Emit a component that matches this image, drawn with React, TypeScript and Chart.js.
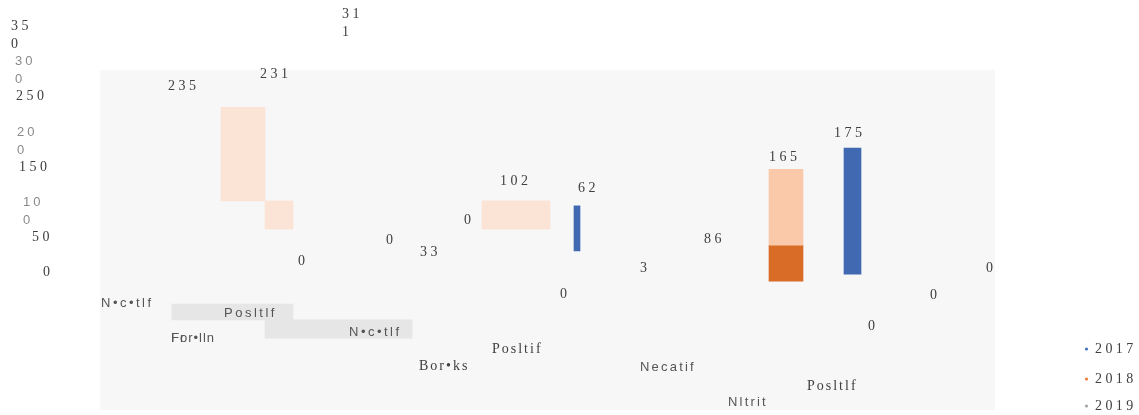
import { useEffect, useRef } from "react";
import { Chart, registerables } from "chart.js";

Chart.register(...registerables);

// ---- data ----
const seriesNames = ["2017", "2018", "2019"];
const yTicks = [0, 50, 100, 150, 200, 250, 300, 350];
const yTickLabels = [["0"], ["50"], ["10", "0"], ["150"], ["20", "0"], ["250"], ["30", "0"], ["35", "0"]];

// floating bars: center on x (value units), range on y
const barSeries = [1, 1, 1, 0, 1, 1, 0, 2, 2];
const barCenters = [143, 179, 416, 477, 686, 686, 752.5, 132.5, 238.5];
const barRanges = [
  [102, 235],
  [62, 102],
  [62, 102],
  [31, 95],
  [39, 147],
  [-12, 39],
  [-2, 177],
  [-67, -44.5],
  [-93, -67],
];

const valueLabels = [
  ["235"], ["231"], ["0"], ["31", "1"], ["0"], ["33"], ["0"], ["102"], ["62"],
  ["0"], ["3"], ["86"], ["165"], ["175"], ["0"], ["0"], ["0"],
];
const categoryLabels = [
  "N•c•tlf", "Posltlf", "Fr", "For•lln", "N•c•tlf", "Bor•ks",
  "Posltif", "Necatif", "Posltlf", "Nltrit",
];

// ---- layout / style (kept apart from the data) ----
const valueLabelPos = [
  [68, 265.2], [160, 282.3], [198, 16.6], [242, 367.5], [286, 46.5], [320, 29.4],
  [364, 74.9], [400, 130.3], [478, 120.3], [460, -30.3], [540, 6.7], [604, 47.9],
  [669, 164.4], [734, 198.5], [768, -75.7], [830, -31.7], [886, 6.7],
];
const categoryPos = [
  [1, -43.0], [124, -57.3], [71, -92.8], [71, -92.8], [249, -84.2], [319, -132.6],
  [392, -108.4], [540, -134.0], [707, -161.0], [628, -183.7],
];
const categorySerif = [false, false, false, false, false, true, true, false, true, false];
const categorySpacing = [2.5, 2.5, 1, 1, 2.5, 2, 2, 2.2, 2, 2.2];
const yTickLabelX = [43, 32, 23, 19, 17, 16, 15, 11];
const yTickSerif = [true, true, false, true, false, true, false, true];

const barWidths = [44, 28, 68, 6, 34, 34, 17, 121, 147];
const barColors = [
  "#fbe3d6", "#fbe3d6", "#fbe3d6", "#4169b2", "#f9c9a9", "#d96c26", "#4169b2", "#e6e6e6", "#e6e6e6",
];
const legendColors = ["#4472c4", "#ed7d31", "#a5a5a5"];
const legendY = [349, 379, 406];

const SERIF = "'Liberation Serif', 'Times New Roman', serif";
const SANS = "'Liberation Sans', Arial, sans-serif";
const DARK = "#404040";
const SANS_DARK = "#555555";
const GRAY = "#8a8a8a";
const LINE_H = 18;

function drawLines(
  ctx: CanvasRenderingContext2D,
  lines: string[],
  x: number,
  y: number,
  font: string,
  color: string,
  spacing: number
) {
  ctx.font = font;
  ctx.fillStyle = color;
  (ctx as any).letterSpacing = spacing + "px";
  lines.forEach((ln, i) => ctx.fillText(ln, x, y + i * LINE_H));
}

const backgroundPlugin = {
  id: "plotBg",
  beforeDraw(chart: any) {
    const { ctx, chartArea } = chart;
    ctx.save();
    ctx.fillStyle = "#f7f7f7";
    ctx.fillRect(chartArea.left, chartArea.top, chartArea.right - chartArea.left, chartArea.bottom - chartArea.top);
    ctx.restore();
  },
};

const textPlugin = {
  id: "texts",
  afterDraw(chart: any) {
    const { ctx } = chart;
    const xs = chart.scales.x;
    const ys = chart.scales.y;
    ctx.save();
    ctx.textAlign = "left";
    ctx.textBaseline = "middle";

    // y tick labels
    yTicks.forEach((t, i) => {
      const y = ys.getPixelForValue(t);
      const serif = yTickSerif[i];
      drawLines(
        ctx,
        yTickLabels[i],
        yTickLabelX[i],
        y,
        serif ? `14px ${SERIF}` : `13px ${SANS}`,
        serif ? DARK : GRAY,
        serif ? 3.5 : 3
      );
    });

    // value labels
    valueLabels.forEach((lines, i) => {
      const [vx, vy] = valueLabelPos[i];
      drawLines(ctx, lines, xs.getPixelForValue(vx), ys.getPixelForValue(vy), `14px ${SERIF}`, DARK, 3.5);
    });

    // category labels
    categoryLabels.forEach((txt, i) => {
      const [vx, vy] = categoryPos[i];
      const serif = categorySerif[i];
      drawLines(
        ctx,
        [txt],
        xs.getPixelForValue(vx),
        ys.getPixelForValue(vy),
        serif ? `14px ${SERIF}` : `13px ${SANS}`,
        serif ? DARK : SANS_DARK,
        categorySpacing[i]
      );
    });

    // legend
    seriesNames.forEach((name, i) => {
      const y = legendY[i];
      ctx.fillStyle = legendColors[i];
      ctx.beginPath();
      ctx.arc(1086.5, y, 1.6, 0, Math.PI * 2);
      ctx.fill();
      drawLines(ctx, [name], 1095, y, `14px ${SERIF}`, DARK, 3.4);
    });
    ctx.restore();
  },
};

export default function App() {
  const ref = useRef<HTMLCanvasElement | null>(null);

  useEffect(() => {
    if (!ref.current) return;
    const datasets = barRanges.map((r, i) => ({
      label: seriesNames[barSeries[i]],
      data: [{ x: barCenters[i], y: r }],
      backgroundColor: barColors[i],
      borderWidth: 0,
      barThickness: barWidths[i],
      grouped: false,
    }));
    const chart = new Chart(ref.current, {
      type: "bar",
      data: { datasets } as any,
      options: {
        animation: false,
        responsive: false,
        devicePixelRatio: 1,
        layout: { padding: { left: 100, right: 144, top: 70, bottom: 5 } },
        scales: {
          x: { type: "linear", min: 0, max: 895, display: false, offset: false },
          y: { type: "linear", min: -195, max: 288, display: false },
        },
        plugins: {
          legend: { display: false },
          tooltip: { enabled: false },
        },
      } as any,
      plugins: [backgroundPlugin, textPlugin],
    });
    return () => chart.destroy();
  }, []);

  return (
    <div style={{ position: "fixed", left: 0, top: 0, width: 1139, height: 415, background: "#fff" }}>
      <canvas ref={ref} width={1139} height={415} style={{ display: "block" }} />
    </div>
  );
}
